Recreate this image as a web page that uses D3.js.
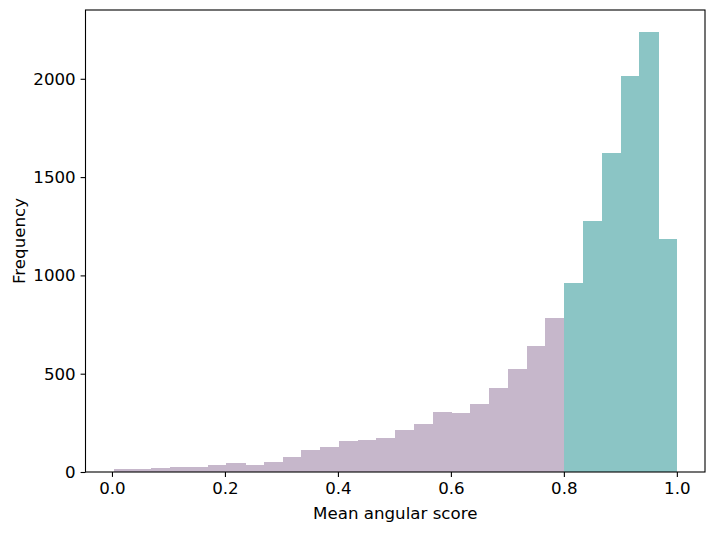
<!DOCTYPE html>
<html>
<head>
<meta charset="utf-8">
<script src="https://cdn.jsdelivr.net/npm/d3@7"></script>
<style>
  body { margin: 0; background: #fff; }
  text { font-family: "DejaVu Sans", sans-serif; }
</style>
</head>
<body>
<div class="canva"></div>
<script>
var width = 715;
var height = 533;

// histogram: 30 equal bins between binMin and binMax
const binMin = 0.003;
const binMax = 1.0;
const counts = [15, 15, 20, 25, 25, 36, 46, 36, 51, 76,
                112, 127, 158, 163, 173, 214, 244, 305, 300, 346,
                427, 524, 641, 783, 961, 1277, 1623, 2014, 2238, 1185];
const split = 0.8; // bins from here on are teal
const xTicks = [0.0, 0.2, 0.4, 0.6, 0.8, 1.0];
const yTicks = [0, 500, 1000, 1500, 2000];

const plot = {left: 85.5, right: 705, top: 10, bottom: 472};
const fs = 16.67;

const step = (binMax - binMin) / counts.length;
const bins = counts.map((c, i) => ({x0: binMin + i * step, x1: binMin + (i + 1) * step, n: c}));

const span = binMax - binMin;
const x = d3.scaleLinear()
            .domain([binMin - 0.05 * span, binMax + 0.05 * span])
            .range([plot.left, plot.right]);
const y = d3.scaleLinear()
            .domain([0, d3.max(counts) * 1.05])
            .range([plot.bottom, plot.top]);

const svg = d3.select('.canva').append('svg')
            .attr('width', width)
            .attr('height', height);

svg.append('g')
   .attr('shape-rendering', 'crispEdges')
   .selectAll('rect')
   .data(bins)
   .enter().append('rect')
   .attr('x', d => x(d.x0))
   .attr('width', d => x(d.x1) - x(d.x0) + 0.5)
   .attr('y', d => y(d.n))
   .attr('height', d => y(0) - y(d.n))
   .attr('fill', d => d.x0 >= split - step / 2 ? '#8bc5c5' : '#c6b7cb');

const xAxis = svg.append('g')
   .attr('transform', `translate(0,${plot.bottom})`)
   .call(d3.axisBottom(x).tickValues(xTicks).tickFormat(d3.format('.1f')).tickSize(4.9).tickPadding(4.9));

const yAxis = svg.append('g')
   .attr('transform', `translate(${plot.left},0)`)
   .call(d3.axisLeft(y).tickValues(yTicks).tickFormat(d3.format('d')).tickSize(4.9).tickPadding(4.9));

[xAxis, yAxis].forEach(g => {
  g.select('.domain').remove();
  g.selectAll('line').attr('stroke', '#000').attr('stroke-width', 1.1);
  g.selectAll('text').attr('font-size', fs).attr('fill', '#000')
   .style('font-family', '"DejaVu Sans", sans-serif');
});

svg.append('rect')
   .attr('x', plot.left)
   .attr('y', plot.top)
   .attr('width', plot.right - plot.left)
   .attr('height', plot.bottom - plot.top)
   .attr('fill', 'none')
   .attr('stroke', '#000')
   .attr('stroke-width', 1.1);

svg.append('text')
   .attr('x', (plot.left + plot.right) / 2)
   .attr('y', 519)
   .attr('text-anchor', 'middle')
   .attr('font-size', fs)
   .text('Mean angular score');

svg.append('text')
   .attr('transform', `translate(25,${(plot.top + plot.bottom) / 2}) rotate(-90)`)
   .attr('text-anchor', 'middle')
   .attr('font-size', fs)
   .text('Frequency');
</script>
</body>
</html>
